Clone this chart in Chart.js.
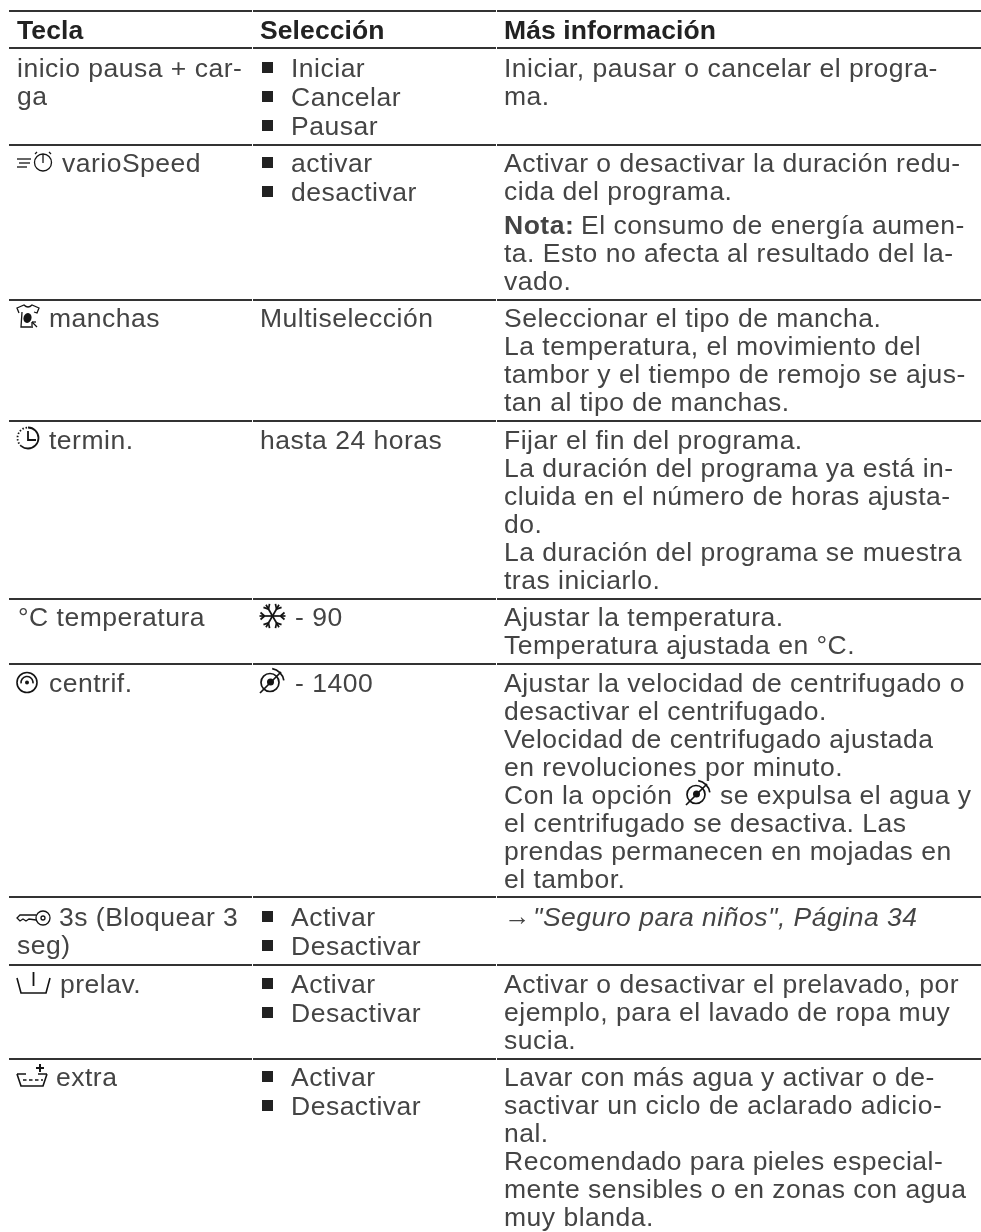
<!DOCTYPE html>
<html>
<head>
<meta charset="utf-8">
<title>Tabla de teclas</title>
<script src="https://cdn.jsdelivr.net/npm/chart.js@4"></script>
<style>
    html, body { margin: 0; padding: 0; background: #fff; }
    canvas { display: block; }
</style>
</head>
<body>
<canvas id="myChart" width="981" height="1232"></canvas>
<script>
const headers = ['Tecla', 'Selección', 'Más información'];

const keyLines = [
    ['inicio pausa + car-', 'ga'],
    ['varioSpeed'],
    ['manchas'],
    ['termin.'],
    ['°C temperatura'],
    ['centrif.'],
    ['3s (Bloquear 3', 'seg)'],
    ['prelav.'],
    ['extra'],
];

const keyIcons = [null, 'speed', 'stain', 'timer', null, 'spin', 'key', 'prewash', 'extra'];

const selectionLines = [
    ['Iniciar', 'Cancelar', 'Pausar'],
    ['activar', 'desactivar'],
    ['Multiselección'],
    ['hasta 24 horas'],
    ['- 90'],
    ['- 1400'],
    ['Activar', 'Desactivar'],
    ['Activar', 'Desactivar'],
    ['Activar', 'Desactivar'],
];

const infoLines = [
    ['Iniciar, pausar o cancelar el progra-', 'ma.'],
    ['Activar o desactivar la duración redu-', 'cida del programa.', 'Nota: El consumo de energía aumen-', 'ta. Esto no afecta al resultado del la-', 'vado.'],
    ['Seleccionar el tipo de mancha.', 'La temperatura, el movimiento del', 'tambor y el tiempo de remojo se ajus-', 'tan al tipo de manchas.'],
    ['Fijar el fin del programa.', 'La duración del programa ya está in-', 'cluida en el número de horas ajusta-', 'do.', 'La duración del programa se muestra', 'tras iniciarlo.'],
    ['Ajustar la temperatura.', 'Temperatura ajustada en °C.'],
    ['Ajustar la velocidad de centrifugado o', 'desactivar el centrifugado.', 'Velocidad de centrifugado ajustada', 'en revoluciones por minuto.', 'Con la opción', 'el centrifugado se desactiva. Las', 'prendas permanecen en mojadas en', 'el tambor.'],
    ['→ "Seguro para niños", Página 34'],
    ['Activar o desactivar el prelavado, por', 'ejemplo, para el lavado de ropa muy', 'sucia.'],
    ['Lavar con más agua y activar o de-', 'sactivar un ciclo de aclarado adicio-', 'nal.', 'Recomendado para pieles especial-', 'mente sensibles o en zonas con agua', 'muy blanda.'],
];

// y of the rules and of the first text line of each row
const ruleRows = [11, 48, 145, 300, 421, 599, 664, 897, 965, 1059];
const headerRow = 39;
const textRows = [77, 172, 327, 449, 626, 692, 926, 993, 1086];

// layout
const columns = [[9, 252], [253, 496], [497, 981]];
const textX = [17, 260, 504];
const bulletTextX = 291;
const keyTextX = [17, 62, 49, 49, 18, 49, 59, 60, 56];
const lineStep = 28;
const bulletStep = 29;
const bodyFont = '26.5px "Liberation Sans"';
const boldFont = 'bold 26.5px "Liberation Sans"';
const italicFont = 'italic 26.5px "Liberation Sans"';
const textColor = '#444444';
const iconColor = '#141414';

function ruleDatasets() {
    let sets = [];
    ruleRows.forEach(y => {
        columns.forEach(col => {
            sets.push({
                data: [{ x: col[0], y: y }, { x: col[1], y: y }],
                showLine: true,
                borderColor: '#333333',
                borderWidth: 2,
                pointRadius: 0,
            });
        });
    });
    return sets;
}

// icons, drawn around x / baseline of the text they sit next to
const icons = {
    speed(c) {
        [[0, 14, -13], [2, 13, -9], [0, 10, -5]].forEach(l => line(c, l[0], l[2], l[1], l[2]));
        ring(c, 26, -9.5, 8.5);
        line(c, 26, -18, 26, -9);
        line(c, 20, -20, 18, -18);
        line(c, 32, -20, 34, -18);
    },
    stain(c) {
        c.beginPath();
        c.moveTo(2, -14);
        c.lineTo(0, -19);
        c.lineTo(7, -22);
        c.quadraticCurveTo(11, -18, 15, -22);
        c.lineTo(22, -19);
        c.lineTo(20, -14);
        c.lineTo(17, -15);
        c.moveTo(5, -15);
        c.lineTo(4, 0);
        c.lineTo(16, 0);
        c.stroke();
        c.beginPath();
        c.ellipse(10.5, -9, 4, 5, 0.3, 0, Math.PI * 2);
        c.fill();
        line(c, 15, -5, 20, 0);
        line(c, 15, -5, 15, -1);
        line(c, 15, -5, 19, -5);
    },
    timer(c) {
        c.lineWidth = 1.8;
        c.beginPath();
        c.arc(11, -11, 10.5, -Math.PI / 2, Math.PI * 0.72);
        c.stroke();
        c.setLineDash([1.5, 1.8]);
        c.beginPath();
        c.arc(11, -11, 10.5, Math.PI * 0.72, Math.PI * 1.5);
        c.stroke();
        c.setLineDash([]);
        c.beginPath();
        c.moveTo(11, -18);
        c.lineTo(11, -9);
        c.lineTo(19, -9);
        c.stroke();
    },
    spin(c) {
        c.lineWidth = 1.6;
        ring(c, 10, -9.5, 10);
        c.beginPath();
        c.arc(10, -9.5, 6, -Math.PI * 1.05, Math.PI * 0.05);
        c.stroke();
        c.beginPath();
        c.arc(10, -9.5, 2, 0, Math.PI * 2);
        c.fill();
    },
    key(c) {
        ring(c, 26, -8, 7);
        ring(c, 26, -8, 2);
        c.beginPath();
        c.moveTo(19, -11);
        c.lineTo(3, -11);
        c.lineTo(0, -8);
        c.lineTo(3, -5);
        c.lineTo(6, -7);
        c.lineTo(9, -5);
        c.lineTo(12, -7);
        c.lineTo(19, -6);
        c.stroke();
    },
    prewash(c) {
        c.lineWidth = 1.6;
        c.beginPath();
        c.moveTo(0, -15);
        c.lineTo(4, 0);
        c.lineTo(29, 0);
        c.lineTo(33, -15);
        c.stroke();
        c.lineWidth = 1.8;
        line(c, 16.5, -21, 16.5, -7);
    },
    extra(c) {
        c.lineWidth = 1.6;
        c.beginPath();
        c.moveTo(0, -12);
        c.lineTo(9, -12);
        c.moveTo(21, -12);
        c.lineTo(30, -12);
        c.moveTo(0, -12);
        c.lineTo(4, 0);
        c.lineTo(26, 0);
        c.lineTo(30, -12);
        c.stroke();
        c.setLineDash([3.5, 2.5]);
        line(c, 6, -6, 26, -6);
        c.setLineDash([]);
        c.lineWidth = 2;
        line(c, 23, -22, 23, -14);
        line(c, 19, -18, 27, -18);
    },
    snow(c) {
        c.lineWidth = 1.7;
        for (let i = 0; i < 3; i++) {
            c.save();
            c.translate(12.5, -10);
            c.rotate(i * Math.PI / 3);
            line(c, -13, 0, 13, 0);
            [-1, 1].forEach(s => {
                line(c, s * 8, 0, s * 12, -3.5);
                line(c, s * 8, 0, s * 12, 3.5);
            });
            c.restore();
        }
    },
    noSpin(c) {
        c.lineWidth = 1.7;
        ring(c, 10, -9.5, 9);
        c.beginPath();
        c.arc(10, -9.5, 14, -Math.PI * 0.45, -Math.PI * 0.05);
        c.stroke();
        line(c, 0, 1, 21, -20);
        c.beginPath();
        c.arc(10.5, -10, 3.5, 0, Math.PI * 2);
        c.fill();
    },
};

function line(c, x1, y1, x2, y2) {
    c.beginPath();
    c.moveTo(x1, y1);
    c.lineTo(x2, y2);
    c.stroke();
}

function ring(c, x, y, r) {
    c.beginPath();
    c.arc(x, y, r, 0, Math.PI * 2);
    c.stroke();
}

function drawIcon(ctx, name, x, y) {
    ctx.save();
    ctx.translate(x, y);
    ctx.strokeStyle = iconColor;
    ctx.fillStyle = iconColor;
    ctx.lineWidth = 1.3;
    icons[name](ctx);
    ctx.restore();
}

const tablePlugin = {
    id: 'tablePlugin',
    afterDatasetsDraw(chart) {
        const ctx = chart.ctx;
        const sx = chart.scales.x;
        const sy = chart.scales.y;
        const put = (text, x, y, font) => {
            ctx.font = font || bodyFont;
            ctx.fillStyle = textColor;
            ctx.letterSpacing = '0.5px';
            ctx.fillText(text, sx.getPixelForValue(x), sy.getPixelForValue(y));
        };
        ctx.save();
        ctx.textBaseline = 'alphabetic';

        headers.forEach((h, i) => {
            ctx.font = boldFont;
            ctx.fillStyle = '#222222';
            ctx.letterSpacing = '0.1px';
            ctx.fillText(h, sx.getPixelForValue(textX[i]), sy.getPixelForValue(headerRow));
        });

        textRows.forEach((top, row) => {
            // first column
            keyLines[row].forEach((t, i) => {
                put(t, i === 0 ? keyTextX[row] : textX[0], top + i * lineStep);
            });
            if (keyIcons[row]) drawIcon(ctx, keyIcons[row], textX[0], sy.getPixelForValue(top));

            // second column
            const sel = selectionLines[row];
            if (sel.length > 1) {
                sel.forEach((t, i) => {
                    const y = top + i * bulletStep;
                    ctx.fillStyle = '#222222';
                    ctx.fillRect(sx.getPixelForValue(262), sy.getPixelForValue(y - 15), 11, 11);
                    put(t, bulletTextX, y);
                });
            } else if (sel[0].startsWith('-')) {
                drawIcon(ctx, sel[0] === '- 90' ? 'snow' : 'noSpin', textX[1], sy.getPixelForValue(top));
                put(sel[0], 295, top);
            } else {
                put(sel[0], textX[1], top);
            }

            // third column
            let y = top;
            infoLines[row].forEach(t => {
                if (t.startsWith('Nota:')) {
                    y += 6;
                    put('Nota:', textX[2], y, boldFont);
                    put(t.slice(6), 581, y);
                } else if (t.startsWith('→')) {
                    put('→', textX[2], y - 1);
                    put(t.slice(2), 533, y, italicFont);
                } else if (t === 'Con la opción') {
                    put(t, textX[2], y);
                    drawIcon(ctx, 'noSpin', sx.getPixelForValue(686), sy.getPixelForValue(y));
                    put('se expulsa el agua y', 720, y);
                } else {
                    put(t, textX[2], y);
                }
                y += lineStep;
            });
        });
        ctx.restore();
    }
};

const config = {
    type: 'scatter',
    data: { datasets: ruleDatasets() },
    plugins: [tablePlugin],
    options: {
        responsive: false,
        animation: false,
        layout: { padding: 0 },
        plugins: { legend: { display: false }, tooltip: { enabled: false } },
        scales: {
            x: { type: 'linear', min: 0, max: 981, display: false },
            y: { type: 'linear', min: 0, max: 1232, reverse: true, display: false },
        },
    },
};

const myChart = new Chart(document.getElementById('myChart'), config);
</script>
</body>
</html>
